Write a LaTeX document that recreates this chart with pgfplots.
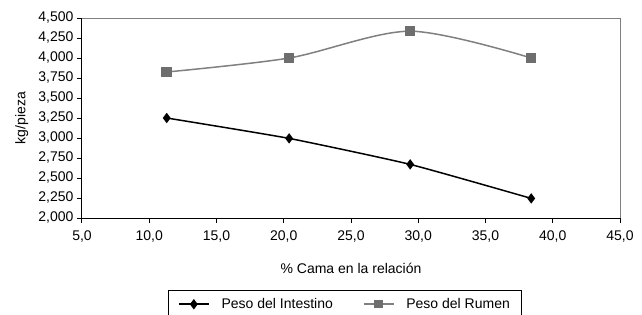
\documentclass[border=0pt]{standalone}
\usepackage{fontspec}
\setmainfont{Liberation Sans}
\usepackage{pgfplots}
\pgfplotsset{compat=1.18}
\definecolor{rumenline}{RGB}{128,128,128}
\definecolor{rumenmark}{RGB}{110,110,110}
\newcommand{\bigf}{\fontsize{14bp}{16bp}\selectfont}
\begin{document}
\begin{tikzpicture}[font=\bigf]
\begin{axis}[
  name=ax,
  scale only axis,
  width=538bp, height=200bp,
  xmin=5, xmax=45, ymin=2000, ymax=4500,
  xtick={5,10,...,45},
  ytick={2000,2250,...,4500},
  axis x line*=bottom, axis y line*=left,
  axis line style={black, line width=1bp},
  tick align=outside,
  major tick length=5bp,
  tick style={black, line width=1bp},
  tick label style={font=\bigf},
  label style={font=\bigf},
  /pgf/number format/assume math mode=true,
  xticklabel style={yshift=-4bp, /pgf/number format/.cd, fixed, fixed zerofill, precision=1, use comma, 1000 sep={}},
  yticklabel style={/pgf/number format/.cd, fixed, 1000 sep={,}},
  scaled y ticks=false,
  xlabel={\% Cama en la relación},
  ylabel={kg/pieza},
  xlabel style={at={(axis description cs:0.5,-0.25)}, anchor=center},
  ylabel style={at={(axis description cs:-0.112,0.5)}, anchor=center, rotate=0},
  legend style={at={(axis description cs:0.4888,-0.36)}, anchor=north, legend columns=2, draw=black, line width=0.8bp, font=\bigf,
    /tikz/every odd column/.append style={column sep=10bp},
    /tikz/every even column/.append style={column sep=28bp},
    inner xsep=10bp, inner ysep=6bp},
  legend cell align=left,
  clip=false,
]
\draw[rumenline, line width=1bp] (rel axis cs:0,1) -- (rel axis cs:1,1) -- (rel axis cs:1,0);
\addplot[black, line width=1.5bp, smooth, tension=0.3, mark=diamond*, mark size=4bp, mark options={solid, fill=black},
  legend image code/.code={\draw[black, line width=1.5bp] (0bp,0bp) -- (30bp,0bp); \fill[black] (15bp,0bp) +(0,4bp) -- +(3bp,0) -- +(0,-4bp) -- +(-3bp,0) -- cycle;}]
  coordinates {(11.3,3250) (20.4,2995) (29.4,2670) (38.4,2245)};
\addlegendentry{Peso del Intestino}
\addplot[rumenline, line width=1.5bp, smooth, tension=0.5, mark=square*, mark size=4.5bp, mark options={solid, fill=rumenmark, draw=rumenmark},
  legend image code/.code={\draw[rumenline, line width=1.5bp] (0bp,0bp) -- (30bp,0bp); \fill[rumenmark] (11.5bp,-3.5bp) rectangle (18.5bp,3.5bp);}]
  coordinates {(11.3,3825) (20.4,4000) (29.4,4335) (38.4,4000)};
\addlegendentry{Peso del Rumen\hspace{7bp}}
\end{axis}
\pgfresetboundingbox
\useasboundingbox ([xshift=-82bp, yshift=-97bp]ax.south west) rectangle ([xshift=22bp, yshift=18bp]ax.north east);
\end{tikzpicture}
\end{document}
